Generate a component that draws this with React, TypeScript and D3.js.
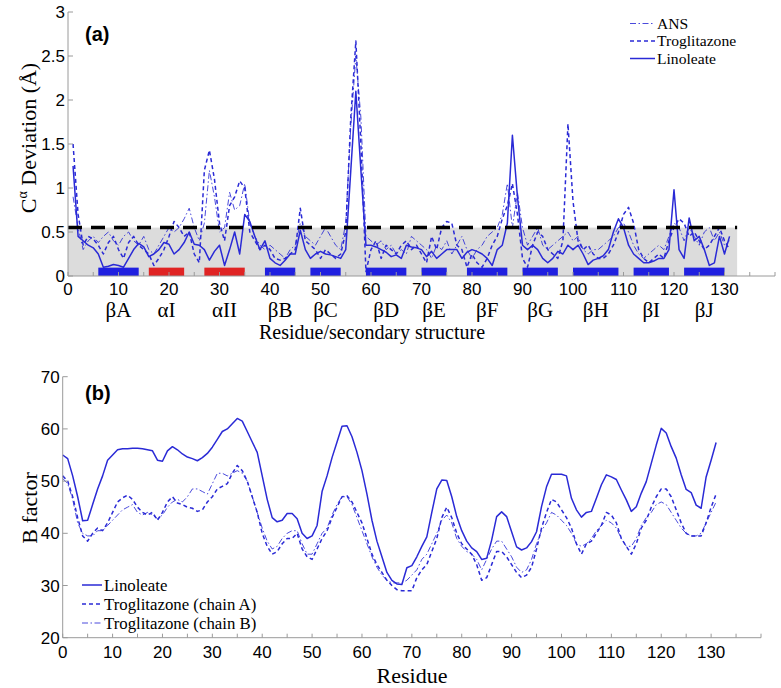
import * as d3 from 'd3';

// Panel (a): C-alpha deviation per residue, residues 1..131
const devFirstResidue = 1;
const ansDev = [
  0.9, 0.55, 0.3, 0.4, 0.45, 0.38, 0.45, 0.5, 0.4, 0.35,
  0.45, 0.5, 0.4, 0.35, 0.45, 0.3, 0.25, 0.35, 0.45, 0.55,
  0.5, 0.55, 0.65, 0.77, 0.55, 0.4, 0.6, 1.2, 0.9, 0.5,
  0.55, 0.95, 0.75, 0.8, 1.05, 0.6, 0.45, 0.35, 0.3, 0.35,
  0.3, 0.25, 0.2, 0.3, 0.35, 0.6, 0.45, 0.4, 0.35, 0.45,
  0.55, 0.45, 0.35, 0.3, 0.6, 1.7, 2.5, 1.8, 0.45, 0.4,
  0.35, 0.4, 0.3, 0.35, 0.25, 0.3, 0.25, 0.45, 0.4, 0.35,
  0.3, 0.2, 0.35, 0.3, 0.4, 0.25, 0.35, 0.45, 0.3, 0.2,
  0.3, 0.35, 0.45, 0.5, 0.55, 0.7, 1.05, 0.55, 0.95, 0.55,
  0.35, 0.45, 0.55, 0.35, 0.3, 0.35, 0.4, 0.45, 0.5, 0.4,
  0.45, 0.3, 0.25, 0.3, 0.3, 0.35, 0.4, 0.45, 0.55, 0.6,
  0.5, 0.35, 0.25, 0.2, 0.25, 0.3, 0.35, 0.3, 0.45, 0.6,
  0.55, 0.4, 0.55, 0.45, 0.35, 0.5, 0.55, 0.4, 0.5, 0.35,
  0.4,
];
const troDev = [
  1.5, 0.7, 0.35, 0.45, 0.42, 0.35, 0.25, 0.38, 0.45, 0.3,
  0.2, 0.38, 0.45, 0.35, 0.3, 0.25, 0.12, 0.2, 0.3, 0.45,
  0.62, 0.55, 0.45, 0.5, 0.25, 0.15, 1.2, 1.43, 1.1, 0.6,
  0.4, 0.8, 0.9, 1.08, 1.0, 0.5, 0.4, 0.3, 0.35, 0.3,
  0.2, 0.18, 0.2, 0.25, 0.3, 0.77, 0.4, 0.35, 0.3, 0.2,
  0.3, 0.25, 0.2, 0.25, 0.5, 1.8, 2.67, 1.5, 0.05, 0.3,
  0.4, 0.2, 0.35, 0.3, 0.25, 0.35, 0.4, 0.3, 0.35, 0.25,
  0.15, 0.45, 0.3, 0.55, 0.62, 0.6, 0.35, 0.3, 0.1, 0.25,
  0.15, 0.1, 0.2, 0.35, 0.45, 0.65, 0.8, 1.05, 0.7, 0.2,
  0.1, 0.35, 0.5, 0.45, 0.3, 0.25, 0.2, 0.4, 1.73, 0.85,
  0.4, 0.3, 0.35, 0.25, 0.2, 0.2, 0.25, 0.35, 0.5, 0.7,
  0.78, 0.6, 0.3, 0.2, 0.15, 0.2, 0.25, 0.2, 0.4, 0.55,
  0.65, 0.6, 0.45, 0.5, 0.4, 0.3, 0.35, 0.45, 0.55, 0.4,
  0.3,
];
const linDev = [
  1.25, 0.45, 0.4, 0.35, 0.32, 0.25, 0.1, 0.11, 0.13, 0.12,
  0.1, 0.2, 0.3, 0.37, 0.33, 0.22, 0.25, 0.3, 0.38, 0.36,
  0.25, 0.3, 0.38, 0.5, 0.36, 0.35, 0.3, 0.18, 0.28, 0.35,
  0.12, 0.3, 0.5, 0.25, 0.7, 0.62, 0.45, 0.3, 0.4, 0.2,
  0.15, 0.12, 0.18, 0.25, 0.25, 0.52, 0.3, 0.2, 0.25, 0.28,
  0.25, 0.24, 0.22, 0.2, 0.3, 1.2, 2.1, 1.2, 0.35, 0.35,
  0.33, 0.3, 0.27, 0.22, 0.24, 0.2, 0.35, 0.33, 0.32, 0.3,
  0.22, 0.28, 0.2, 0.25, 0.3, 0.3, 0.3, 0.2, 0.27, 0.3,
  0.28, 0.25, 0.2, 0.12, 0.3, 0.35, 0.6, 1.6, 0.9, 0.35,
  0.3, 0.35, 0.3, 0.2, 0.15, 0.2, 0.28, 0.25, 0.35, 0.3,
  0.35, 0.25, 0.13, 0.18, 0.2, 0.23, 0.3, 0.5, 0.65, 0.55,
  0.35, 0.25, 0.2, 0.15, 0.15, 0.17, 0.2, 0.2, 0.3, 0.98,
  0.3, 0.2, 0.66, 0.4, 0.45, 0.3, 0.12, 0.15, 0.45, 0.25,
  0.45,
];
const devThreshold = 0.55;
const shadeEnd = 132.5;

// secondary structure elements
const structNames = ['βA', 'αI', 'αII', 'βB', 'βC', 'βD', 'βE', 'βF', 'βG', 'βH', 'βI', 'βJ'];
const structStart = [6, 16, 27, 39, 48, 59, 70, 79, 90, 100, 112, 122];
const structEnd = [14, 23, 35, 45, 54, 67, 75, 87, 97, 109, 119, 130];
const structKind = ['beta', 'alpha', 'alpha', 'beta', 'beta', 'beta', 'beta', 'beta', 'beta', 'beta', 'beta', 'beta'];

// Panel (b): B factor per residue, residues 0..131
const bFirstResidue = 0;
const linB = [
  55, 54.3, 51, 47, 42.4, 42.5, 45.5, 48.5, 51, 54,
  55, 56, 56.2, 56.2, 56.3, 56.3, 56.2, 56, 55.8, 54,
  53.8, 55.8, 56.6, 56, 55.2, 54.6, 54.3, 53.9, 54.5, 55.3,
  56.5, 58, 59.5, 60, 61, 62, 61.5, 59.5, 57.5, 55.5,
  51, 46.5, 43, 42.2, 42.5, 43.8, 43.8, 42.8, 40, 39,
  39.5, 41.5, 48, 51, 54.5, 57.5, 60.5, 60.6, 58.5, 55.5,
  52, 47.5, 42.5, 38.5, 35.5, 32.5, 31, 30.3, 30.2, 33.4,
  33.8, 35.5, 37.5, 39.3, 44, 48.5, 50.2, 50.1, 47, 43.2,
  40.5, 38.5, 37.2, 36.5, 35, 35.2, 38.7, 43.2, 44.1, 43.2,
  40.3, 37.4, 36.8, 37.2, 38.4, 40.3, 45.1, 48.9, 51.3, 51.3,
  51.3, 51, 46.7, 44.5, 43.1, 44, 44.2, 46.7, 49.3, 51.2,
  50.8, 50.3, 48.3, 46.4, 44.2, 45.1, 47.7, 49.9, 53.4, 56.9,
  60.1, 59.2, 56.6, 54.4, 51.2, 48.4, 47.8, 45.4, 44.8, 50.8,
  54, 57.4,
];
const troAB = [
  51, 50, 47, 43, 39.5, 38.5, 40, 41, 40.5, 42,
  44, 46, 46.8, 47.3, 46.5, 45, 44, 43.5, 44, 42.5,
  44, 46, 47, 45.8, 45.5, 45, 44.8, 44.2, 44.5, 46,
  47, 48.5, 49, 49.5, 51.5, 53, 52, 50, 47, 44,
  40, 37.5, 36, 36.5, 38, 39, 39, 40, 37, 35.5,
  35, 37, 39, 40.5, 43, 45, 47, 47.2, 46, 44,
  42, 39, 36, 34, 32.5, 31, 30, 29.2, 29, 29,
  29, 31.5, 33, 34, 36.5, 39, 43, 45, 43, 40,
  38, 37, 36, 34, 31, 31.5, 34, 36.5, 36.5, 35.5,
  34, 32.5, 31.5, 32, 33.5, 37, 41, 44, 46.5, 46,
  44.5, 43, 41, 38, 36, 38, 38.5, 40, 41.5, 44,
  43.5, 42, 39, 37.5, 36, 38, 41, 42.5, 45, 47,
  48.5, 48.5, 47, 44.5, 42, 40, 39.5, 39.5, 39.5, 42,
  45, 47.5,
];
const troBB = [
  50.5, 49.5, 46.5, 42, 40, 39.5, 39.5, 40.5, 40.5, 41.5,
  42.5, 43.5, 44.5, 45, 45.5, 44, 43.5, 44, 43.5, 42.8,
  43.5, 45, 46, 46.5, 46, 47, 48.5, 48.5, 48, 47.5,
  49.5, 51.5, 51.5, 51, 51.5, 52, 51.5, 50, 47, 44,
  41, 38.5, 37, 37.5, 39, 40, 40.5, 40.5, 38, 36,
  36, 38, 40, 41, 43.5, 45.5, 47, 47, 45.5, 43,
  40.5, 38, 35.5, 33.5, 32, 31, 30.5, 30.5, 30.5, 31,
  32, 33, 35, 36, 38, 40, 42.5, 43.5, 42, 39,
  37.5, 36.5, 36, 35, 33, 35, 37, 38.5, 38.5, 37,
  35.5, 33.5, 32.5, 33, 35, 38, 40.5, 42, 44, 43.5,
  42.5, 41.5, 40, 38, 37.5, 38, 39, 40.5, 41.5, 42.5,
  42, 41, 39, 37.5, 37.5, 39, 41.5, 43, 44, 45.5,
  46, 45.5, 44, 42.5, 41, 40, 39.5, 39.5, 40, 42,
  44, 46,
];

const devTicks = [0, 0.5, 1, 1.5, 2, 2.5, 3];
const bTicks = [20, 30, 40, 50, 60, 70];
const residueLabels = [0, 10, 20, 30, 40, 50, 60, 70, 80, 90, 100, 110, 120, 130];
const residueMinor = d3.range(0, 141, 5);

const BLUE = '#2a2ad6';
const SANS = '"Liberation Sans", Arial, sans-serif';
const SERIF = '"Liberation Serif", "Times New Roman", serif';

const lineStyles: Record<string, { dash?: string; width: number; opacity: number }> = {
  solid: { width: 1.5, opacity: 1 },
  dashed: { dash: '4 3', width: 1.5, opacity: 1 },
  dashdot: { dash: '6 2.5 1.5 2.5', width: 1, opacity: 0.85 },
};

function toPoints(values: number[], first: number) {
  return values.map((v, i) => ({ r: i + first, v }));
}

export default function App() {
  // panel (a) scales
  const xa = d3.scaleLinear().domain([0, 140]).range([68, 775]);
  const ya = d3.scaleLinear().domain([0, 3]).range([276, 12]);
  // panel (b) scales
  const xb = d3.scaleLinear().domain([0, 140]).range([62.7, 761]);
  const yb = d3.scaleLinear().domain([20, 70]).range([637.7, 376.7]);

  const lineA = d3
    .line<{ r: number; v: number }>()
    .x((d) => xa(d.r))
    .y((d) => ya(d.v));
  const lineB = d3
    .line<{ r: number; v: number }>()
    .x((d) => xb(d.r))
    .y((d) => yb(d.v));

  const seriesA = [
    { key: 'lin', data: linDev, style: 'solid' },
    { key: 'tro', data: troDev, style: 'dashed' },
    { key: 'ans', data: ansDev, style: 'dashdot' },
  ];
  const seriesB = [
    { key: 'lin', data: linB, style: 'solid' },
    { key: 'troA', data: troAB, style: 'dashed' },
    { key: 'troB', data: troBB, style: 'dashdot' },
  ];

  const legendA = [
    { label: 'ANS', style: 'dashdot' },
    { label: 'Troglitazone', style: 'dashed' },
    { label: 'Linoleate', style: 'solid' },
  ];
  const legendB = [
    { label: 'Linoleate', style: 'solid' },
    { label: 'Troglitazone (chain A)', style: 'dashed' },
    { label: 'Troglitazone (chain B)', style: 'dashdot' },
  ];

  const axisColor = '#9a9a9a';

  return (
    <svg
      width={781}
      height={688}
      style={{ position: 'absolute', left: 0, top: 0, background: '#fff' }}
    >
      {/* ---------- panel (a) ---------- */}
      <rect
        x={xa(0)}
        y={ya(devThreshold)}
        width={xa(shadeEnd) - xa(0)}
        height={ya(0) - ya(devThreshold)}
        fill="#dcdcdc"
      />
      {seriesA.map((s) => {
        const st = lineStyles[s.style];
        return (
          <path
            key={s.key}
            d={lineA(toPoints(s.data, devFirstResidue)) || ''}
            fill="none"
            stroke={BLUE}
            strokeWidth={st.width}
            strokeDasharray={st.dash}
            strokeOpacity={st.opacity}
            strokeLinejoin="round"
          />
        );
      })}
      <line
        x1={xa(0)}
        x2={xa(shadeEnd)}
        y1={ya(devThreshold)}
        y2={ya(devThreshold)}
        stroke="#000"
        strokeWidth={3.5}
        strokeDasharray="14 9"
      />
      {structNames.map((n, i) => (
        <rect
          key={n}
          x={xa(structStart[i])}
          y={ya(0.095)}
          width={xa(structEnd[i]) - xa(structStart[i])}
          height={ya(0) - ya(0.095)}
          fill={structKind[i] === 'alpha' ? '#e02424' : '#2020e0'}
        />
      ))}
      {/* axes (a) */}
      <line x1={xa(0)} x2={xa(0)} y1={ya(0)} y2={ya(3)} stroke={axisColor} />
      <line x1={xa(0)} x2={xa(140)} y1={ya(0)} y2={ya(0)} stroke={axisColor} />
      {devTicks.map((t) => (
        <g key={t}>
          <line x1={xa(0)} x2={xa(0) + 5} y1={ya(t)} y2={ya(t)} stroke={axisColor} />
          <text
            x={xa(0) - 3}
            y={ya(t)}
            dy="0.36em"
            textAnchor="end"
            fontFamily={SANS}
            fontSize={17}
          >
            {t}
          </text>
        </g>
      ))}
      {residueMinor.map((t) => (
        <line key={t} x1={xa(t)} x2={xa(t)} y1={ya(0)} y2={ya(0) - 4} stroke={axisColor} />
      ))}
      {residueLabels.map((t) => (
        <text
          key={t}
          x={xa(t)}
          y={294.5}
          textAnchor="middle"
          fontFamily={SANS}
          fontSize={17}
        >
          {t}
        </text>
      ))}
      {structNames.map((n, i) => (
        <text
          key={n}
          x={xa((structStart[i] + structEnd[i]) / 2)}
          y={317}
          textAnchor="middle"
          fontFamily={SERIF}
          fontSize={21}
        >
          {n}
        </text>
      ))}
      <text x={372} y={339} textAnchor="middle" fontFamily={SERIF} fontSize={20}>
        Residue/secondary structure
      </text>
      <text
        transform="translate(36,138) rotate(-90)"
        textAnchor="middle"
        fontFamily={SERIF}
        fontSize={22}
      >
        C
        <tspan fontSize={14} dy={-9}>
          α
        </tspan>
        <tspan dy={9}> Deviation (Å)</tspan>
      </text>
      <text x={85} y={41} fontFamily={SANS} fontSize={20} fontWeight="bold">
        (a)
      </text>
      {legendA.map((l, i) => {
        const st = lineStyles[l.style];
        const y = 23.5 + i * 17.5;
        return (
          <g key={l.label}>
            <line
              x1={630}
              x2={655}
              y1={y}
              y2={y}
              stroke={BLUE}
              strokeWidth={st.width}
              strokeDasharray={st.dash}
              strokeOpacity={st.opacity}
            />
            <text x={657} y={y + 5} fontFamily={SERIF} fontSize={15.6}>
              {l.label}
            </text>
          </g>
        );
      })}

      {/* ---------- panel (b) ---------- */}
      {seriesB.map((s) => {
        const st = lineStyles[s.style];
        return (
          <path
            key={s.key}
            d={lineB(toPoints(s.data, bFirstResidue)) || ''}
            fill="none"
            stroke={BLUE}
            strokeWidth={st.width}
            strokeDasharray={st.dash}
            strokeOpacity={st.opacity}
            strokeLinejoin="round"
          />
        );
      })}
      <line x1={xb(0)} x2={xb(0)} y1={yb(20)} y2={yb(70)} stroke={axisColor} />
      <line x1={xb(0)} x2={xb(140)} y1={yb(20)} y2={yb(20)} stroke={axisColor} />
      {bTicks.map((t) => (
        <g key={t}>
          <line x1={xb(0)} x2={xb(0) + 5} y1={yb(t)} y2={yb(t)} stroke={axisColor} />
          <text
            x={xb(0) - 3}
            y={yb(t)}
            dy="0.36em"
            textAnchor="end"
            fontFamily={SANS}
            fontSize={17}
          >
            {t}
          </text>
        </g>
      ))}
      {residueMinor.map((t) => (
        <line key={t} x1={xb(t)} x2={xb(t)} y1={yb(20)} y2={yb(20) - 4} stroke={axisColor} />
      ))}
      {residueLabels.map((t) => (
        <text
          key={t}
          x={xb(t)}
          y={658}
          textAnchor="middle"
          fontFamily={SANS}
          fontSize={17}
        >
          {t}
        </text>
      ))}
      <text x={412} y={683} textAnchor="middle" fontFamily={SERIF} fontSize={22}>
        Residue
      </text>
      <text
        transform="translate(37,508) rotate(-90)"
        textAnchor="middle"
        fontFamily={SERIF}
        fontSize={22}
      >
        B factor
      </text>
      <text x={85} y={400} fontFamily={SANS} fontSize={20} fontWeight="bold">
        (b)
      </text>
      {legendB.map((l, i) => {
        const st = lineStyles[l.style];
        const y = 585 + i * 19;
        return (
          <g key={l.label}>
            <line
              x1={82}
              x2={102}
              y1={y}
              y2={y}
              stroke={BLUE}
              strokeWidth={st.width}
              strokeDasharray={st.dash}
              strokeOpacity={st.opacity}
            />
            <text x={104} y={y + 5.5} fontFamily={SERIF} fontSize={16.8}>
              {l.label}
            </text>
          </g>
        );
      })}
    </svg>
  );
}
